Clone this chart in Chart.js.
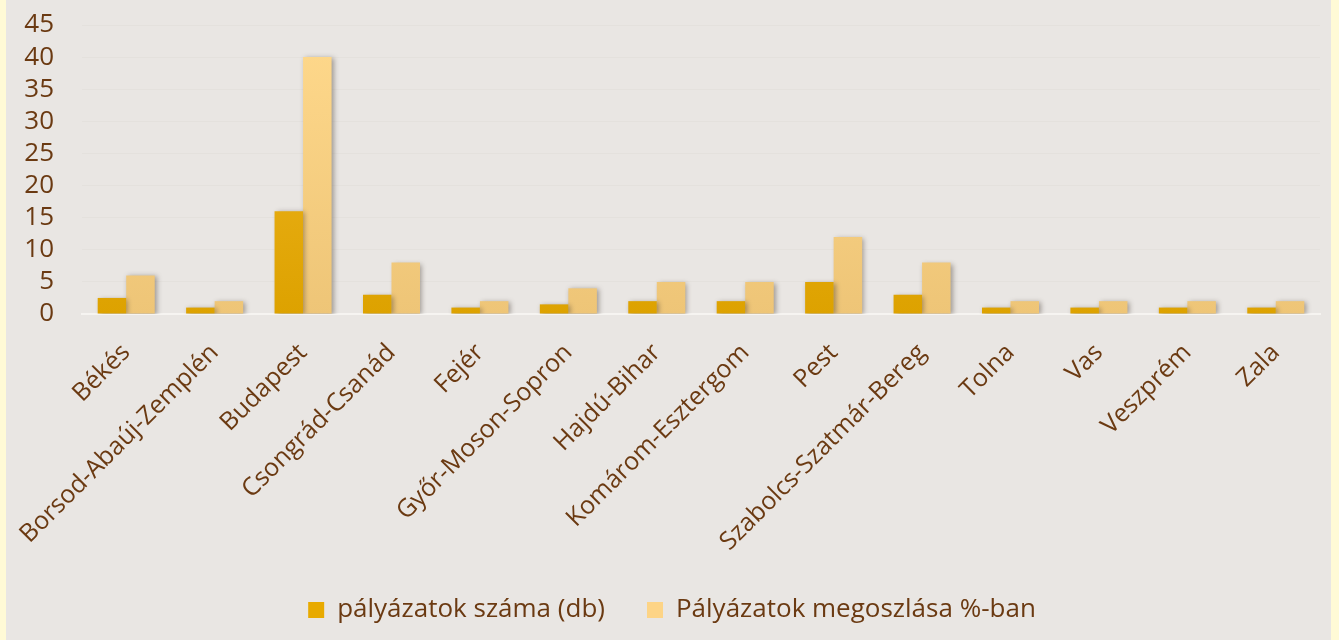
<!DOCTYPE html>
<html>
<head>
<meta charset="utf-8">
<script src="https://cdn.jsdelivr.net/npm/chart.js@4.4.1/dist/chart.umd.min.js"></script>
<style>
  html, body { margin: 0; padding: 0; background: #fffad6; }
  #wrap { position: absolute; left: 6px; top: 0; width: 1325px; height: 640px; background: #e9e6e3; }
</style>
</head>
<body>
<div id="wrap"><canvas id="palyazatChart"></canvas></div>
<script>
var megyek = [
    "Békés",
    "Borsod-Abaúj-Zemplén",
    "Budapest",
    "Csongrád-Csanád",
    "Fejér",
    "Győr-Moson-Sopron",
    "Hajdú-Bihar",
    "Komárom-Esztergom",
    "Pest",
    "Szabolcs-Szatmár-Bereg",
    "Tolna",
    "Vas",
    "Veszprém",
    "Zala"
];
var palyazatokSzama = [2.5, 1, 16, 3, 1, 1.5, 2, 2, 5, 3, 1, 1, 1, 1];
var megoszlasSzazalek = [6, 2, 40, 8, 2, 4, 5, 5, 12, 8, 2, 2, 2, 2];
var yTicks = [0, 5, 10, 15, 20, 25, 30, 35, 40, 45];

var textColor = '#6b3a12';
var fontFamily = '"Open Sans", sans-serif';

function gradientFill(top, bottom) {
    return function(context) {
        var chart = context.chart;
        var area = chart.chartArea;
        if (!area) return bottom;
        var g = chart.ctx.createLinearGradient(0, area.top, 0, area.bottom);
        g.addColorStop(0, top);
        g.addColorStop(1, bottom);
        return g;
    };
}

// soft drop shadow behind the bars
var barShadow = {
    id: 'barShadow',
    beforeDatasetsDraw: function(chart) {
        var ctx = chart.ctx;
        ctx.save();
        ctx.shadowColor = 'rgba(70, 60, 50, 0.45)';
        ctx.shadowBlur = 5;
        ctx.shadowOffsetX = 2;
        ctx.shadowOffsetY = 1;
    },
    afterDatasetsDraw: function(chart) {
        chart.ctx.restore();
    }
};

var ctx = document.getElementById('palyazatChart');

new Chart(ctx, {
    type: 'bar',
    data: {
        labels: megyek,
        datasets: [{
            label: 'pályázatok száma (db)',
            data: palyazatokSzama,
            backgroundColor: gradientFill('#f2b826', '#dda200'),
            legendColor: '#e8aa00',
            borderWidth: 0
        }, {
            label: 'Pályázatok megoszlása %-ban',
            data: megoszlasSzazalek,
            backgroundColor: gradientFill('#ffd98c', '#eec577'),
            legendColor: '#fdd486',
            borderWidth: 0
        }]
    },
    options: {
        responsive: true,
        maintainAspectRatio: false,
        animation: false,
        layout: {
            padding: { left: 18, right: 11, top: 25, bottom: 7 }
        },
        datasets: {
            bar: {
                categoryPercentage: 0.645,
                barPercentage: 1
            }
        },
        scales: {
            x: {
                grid: { display: false, drawTicks: false },
                border: { display: true, color: '#f6f4f1', width: 2 },
                ticks: {
                    color: textColor,
                    font: { family: fontFamily, size: 25 },
                    minRotation: 45,
                    maxRotation: 45,
                    autoSkip: false,
                    padding: 24
                },
                afterFit: function(axis) {
                    // rotated labels: drop the extra side room and slack below
                    axis.paddingLeft = 0;
                    axis.paddingRight = 0;
                    axis.height = 241;
                }
            },
            y: {
                min: 0,
                max: 45,
                afterBuildTicks: function(axis) {
                    axis.ticks = yTicks.map(function(v) { return { value: v }; });
                },
                afterFit: function(axis) {
                    // top label may stick out above the plot, like the original
                    axis.paddingTop = 0;
                    axis.paddingBottom = 0;
                    axis.width = 58;
                },
                grid: { color: 'rgba(225, 221, 217, 0.6)', drawTicks: false },
                border: { display: false },
                ticks: {
                    color: textColor,
                    font: { family: fontFamily, size: 26 },
                    padding: 28,
                    autoSkip: false
                }
            }
        },
        plugins: {
            tooltip: { enabled: false },
            legend: {
                position: 'bottom',
                labels: {
                    color: textColor,
                    font: { family: fontFamily, size: 26 },
                    boxWidth: 16,
                    boxHeight: 16,
                    padding: 42,
                    generateLabels: function(chart) {
                        return chart.data.datasets.map(function(ds, i) {
                            return {
                                text: ds.label,
                                fillStyle: ds.legendColor,
                                strokeStyle: ds.legendColor,
                                lineWidth: 0,
                                fontColor: textColor,
                                datasetIndex: i
                            };
                        });
                    }
                }
            }
        }
    },
    plugins: [barShadow]
});
</script>
</body>
</html>
